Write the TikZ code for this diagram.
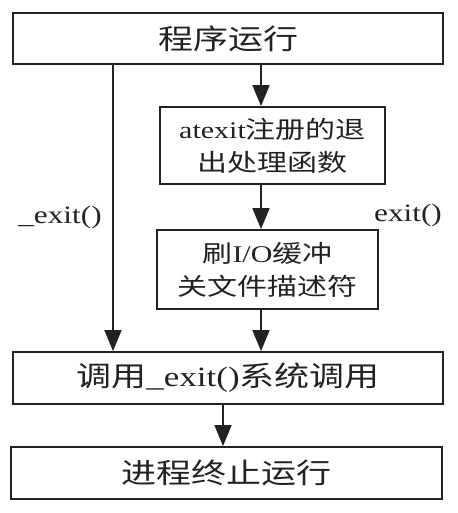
\documentclass[tikz,border=0pt]{standalone}
\usepackage{fontspec}
\setmainfont[FakeStretch=1.25]{Liberation Serif}
\newfontfamily\cjk[FakeStretch=1.25]{Noto Sans CJK SC}
\newfontfamily\lat[FakeStretch=1.25]{Liberation Serif}
\usetikzlibrary{arrows.meta}
\definecolor{ink}{HTML}{222222}
\begin{document}
\begin{tikzpicture}[x=1pt,y=-1pt,
  box/.style={draw=ink,line width=1.8pt,rectangle,inner sep=0pt,text=ink,align=center},
  big/.style={box,font=\fontsize{28}{33}\selectfont},
  small/.style={box,font=\fontsize{24}{33}\selectfont},
  arr/.style={draw=ink,line width=1.8pt,-{Triangle[width=17pt,length=21pt]}},
  lbl/.style={text=ink,font=\fontsize{25}{30}\selectfont\lat,inner sep=0pt}]
\useasboundingbox (0,0) rectangle (457,513);
\node[big,minimum width=430pt,minimum height=51pt] (top) at (228,38.5) {\cjk 程序运行};
\node[small,minimum width=225pt,minimum height=77pt] (b2) at (272.5,145.5) {\lat atexit\cjk 注册的退\\\cjk 出处理函数};
\node[small,minimum width=221pt,minimum height=79pt] (b3) at (267.5,269.5) {\cjk 刷\lat I/O\cjk 缓冲\\\cjk 关文件描述符};
\node[big,minimum width=430pt,minimum height=52pt] (b4) at (228,378) {\cjk 调用\lat\_exit()\cjk 系统调用};
\node[big,minimum width=431pt,minimum height=52pt] (b5) at (226.5,473) {\cjk 进程终止运行};
\coordinate (L) at (113,0);
\coordinate (M) at (261,0);
\coordinate (N) at (223,0);
\draw[arr] (top.south -| L) -- (b4.north -| L);
\draw[arr] (top.south -| M) -- (b2.north -| M);
\draw[arr] (b2.south -| M) -- (b3.north -| M);
\draw[arr] (b3.south -| M) -- (b4.north -| M);
\draw[arr] (b4.south -| N) -- (b5.north -| N);
\node[lbl] (l1) at (60,217) {\_exit()};
\node[lbl] (l2) at (408,215) {exit()};
\end{tikzpicture}
\end{document}
